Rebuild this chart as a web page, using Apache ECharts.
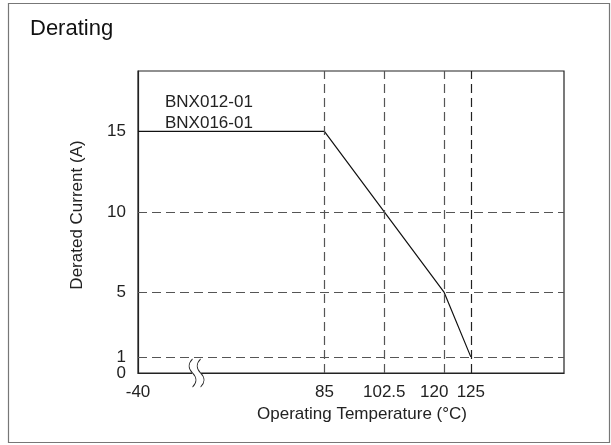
<!DOCTYPE html>
<html>
<head>
<meta charset="utf-8">
<script src="https://cdn.jsdelivr.net/npm/echarts@6/dist/echarts.min.js"></script>
<style>html,body{margin:0;padding:0;background:#fff}#c{width:611px;height:445px}</style>
</head>
<body>
<div id="c"></div>
<script>
// ---- data ----
const xTickTemps = [-40, 85, 102.5, 120, 125];
const xTickLabels = ['-40', '85', '102.5', '120', '125'];
const yTickValues = [0, 1, 5, 10, 15];
const tempC = [-40, 85, 120, 125];
const currentA = [15, 15, 5, 1];
const gridTemps = [85, 102.5, 120, 125];
const gridCurrents = [1, 5, 10];
const seriesLabels = ['BNX012-01', 'BNX016-01'];

// ---- layout: schematic (non-linear) temperature axis ----
const xSlots = [0, 7, 9.25, 11.5, 12.5];
const xMaxSlot = 16;
const breakSlot = 2.2;
function toSlot(t) {
  for (let i = 0; i < xTickTemps.length - 1; i++) {
    const a = xTickTemps[i], b = xTickTemps[i + 1];
    if (t >= a && t <= b) return xSlots[i] + (t - a) / (b - a) * (xSlots[i + 1] - xSlots[i]);
  }
  return xSlots[xSlots.length - 1];
}

const FONT = 'Liberation Sans, Arial, Helvetica, sans-serif';
const chart = echarts.init(document.getElementById('c'));
const lineData = tempC.map((t, i) => [toSlot(t), currentA[i]]);
const dash = { type: [9, 5], color: '#555', width: 1.2 };

chart.setOption({
  animation: false,
  title: {
    text: 'Derating', left: 25, top: 13,
    textStyle: { fontFamily: FONT, fontSize: 22, fontWeight: 'normal', color: '#111' }
  },
  grid: { left: 138, right: 47, top: 71, bottom: 72, show: true, borderColor: '#222', borderWidth: 1.2 },
  xAxis: {
    type: 'value', min: 0, max: xMaxSlot, interval: 0.25,
    axisLine: { lineStyle: { color: '#222', width: 1.2 } },
    axisTick: { show: false }, splitLine: { show: false },
    axisLabel: {
      margin: 11, fontFamily: FONT, fontSize: 17, color: '#222',
      formatter: v => {
        const i = xSlots.findIndex(s => Math.abs(s - v) < 1e-6);
        if (i < 0) return '';
        return xTickLabels[i] === '120' ? '{l|' + xTickLabels[i] + '}' : xTickLabels[i];
      },
      rich: { l: { fontFamily: FONT, fontSize: 17, color: '#222', padding: [0, 20, 0, 0] } }
    },
    name: 'Operating Temperature (°C)', nameLocation: 'middle', nameGap: 33,
    nameTextStyle: { fontFamily: FONT, fontSize: 17, color: '#222', padding: [0, 0, 0, 22] }
  },
  yAxis: {
    type: 'value', min: 0, max: 18.75, interval: 0.25,
    axisLine: { show: true, lineStyle: { color: '#222', width: 1.2 } },
    axisTick: { show: false }, splitLine: { show: false },
    axisLabel: {
      margin: 12, fontFamily: FONT, fontSize: 17, color: '#222',
      formatter: v => yTickValues.some(y => Math.abs(y - v) < 1e-6) ? String(v) : ''
    },
    name: 'Derated Current (A)', nameLocation: 'middle', nameGap: 52,
    nameTextStyle: { fontFamily: FONT, fontSize: 17, color: '#222', padding: [0, 0, 0, 14] }
  },
  series: [{
    type: 'line', data: lineData, symbol: 'none',
    lineStyle: { color: '#111', width: 1.2 },
    markLine: {
      silent: true, symbol: 'none', label: { show: false },
      lineStyle: dash,
      data: gridTemps.map(t => ({ xAxis: toSlot(t), lineStyle: t === 125 ? { color: '#222' } : {} }))
        .concat(gridCurrents.map(c => ({ yAxis: c })))
    },
    markPoint: {
      silent: true,
      label: { show: false },
      data: [
        { coord: [breakSlot, 0], symbol: 'rect', symbolSize: [9, 5], itemStyle: { color: '#fff' } },
        { coord: [breakSlot, 0], symbol: 'path://M4 0 Q-2 7 4 14 Q10 21 4 28 M11 0 Q5 7 11 14 Q17 21 11 28',
          symbolSize: [15, 28], itemStyle: { color: 'rgba(0,0,0,0)', borderColor: '#222', borderWidth: 1 } }
      ]
    }
  }],
  graphic: [
    { type: 'rect', shape: { x: 8.5, y: 3.5, width: 601, height: 439 }, style: { fill: 'none', stroke: '#777', lineWidth: 1.2 }, silent: true },
    { type: 'text', left: 165, top: 92, style: { text: seriesLabels.join('\n'), font: '17px ' + FONT, fill: '#222', lineHeight: 21 } }
  ]
});
</script>
</body>
</html>
